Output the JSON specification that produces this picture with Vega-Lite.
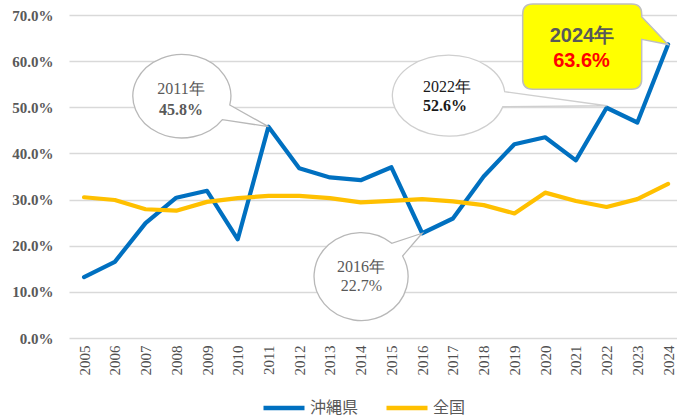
{
  "$schema": "https://vega.github.io/schema/vega-lite/v6.json",
  "width": 608,
  "height": 323,
  "autosize": {"type": "none"},
  "padding": {"left": 69, "top": 15, "right": 0, "bottom": 81},
  "background": "white",
  "config": {"view": {"stroke": null}},
  "datasets": {
    "series": [
      {"year": 2005, "series": "沖縄県", "value": 0.132},
      {"year": 2006, "series": "沖縄県", "value": 0.165},
      {"year": 2007, "series": "沖縄県", "value": 0.249},
      {"year": 2008, "series": "沖縄県", "value": 0.304},
      {"year": 2009, "series": "沖縄県", "value": 0.319},
      {"year": 2010, "series": "沖縄県", "value": 0.214},
      {"year": 2011, "series": "沖縄県", "value": 0.458},
      {"year": 2012, "series": "沖縄県", "value": 0.368},
      {"year": 2013, "series": "沖縄県", "value": 0.348},
      {"year": 2014, "series": "沖縄県", "value": 0.342},
      {"year": 2015, "series": "沖縄県", "value": 0.370},
      {"year": 2016, "series": "沖縄県", "value": 0.227},
      {"year": 2017, "series": "沖縄県", "value": 0.259},
      {"year": 2018, "series": "沖縄県", "value": 0.350},
      {"year": 2019, "series": "沖縄県", "value": 0.420},
      {"year": 2020, "series": "沖縄県", "value": 0.435},
      {"year": 2021, "series": "沖縄県", "value": 0.385},
      {"year": 2022, "series": "沖縄県", "value": 0.499},
      {"year": 2023, "series": "沖縄県", "value": 0.467},
      {"year": 2024, "series": "沖縄県", "value": 0.636},
      {"year": 2005, "series": "全国", "value": 0.305},
      {"year": 2006, "series": "全国", "value": 0.299},
      {"year": 2007, "series": "全国", "value": 0.279},
      {"year": 2008, "series": "全国", "value": 0.276},
      {"year": 2009, "series": "全国", "value": 0.295},
      {"year": 2010, "series": "全国", "value": 0.303},
      {"year": 2011, "series": "全国", "value": 0.308},
      {"year": 2012, "series": "全国", "value": 0.308},
      {"year": 2013, "series": "全国", "value": 0.303},
      {"year": 2014, "series": "全国", "value": 0.294},
      {"year": 2015, "series": "全国", "value": 0.297},
      {"year": 2016, "series": "全国", "value": 0.301},
      {"year": 2017, "series": "全国", "value": 0.296},
      {"year": 2018, "series": "全国", "value": 0.288},
      {"year": 2019, "series": "全国", "value": 0.270},
      {"year": 2020, "series": "全国", "value": 0.315},
      {"year": 2021, "series": "全国", "value": 0.297},
      {"year": 2022, "series": "全国", "value": 0.284},
      {"year": 2023, "series": "全国", "value": 0.301},
      {"year": 2024, "series": "全国", "value": 0.334}
    ],
    "callouts": [
      {"year": 2011, "value": 0.458, "title": "2011年", "pct": "45.8%"},
      {"year": 2016, "value": 0.227, "title": "2016年", "pct": "22.7%"},
      {"year": 2022, "value": 0.499, "title": "2022年", "pct": "52.6%"},
      {"year": 2024, "value": 0.636, "title": "2024年", "pct": "63.6%"}
    ]
  },
  "encoding": {
    "x": {
      "field": "year", "type": "quantitative",
      "scale": {"domain": [2004.51, 2024.29], "nice": false, "zero": false},
      "axis": {
        "title": null, "values": [2005,2006,2007,2008,2009,2010,2011,2012,2013,2014,2015,2016,2017,2018,2019,2020,2021,2022,2023,2024],
        "format": "d", "labelAngle": -90, "labelFont": "Liberation Serif", "labelFontSize": 15,
        "labelColor": "#505050", "labelPadding": 7, "ticks": false, "domain": false, "grid": false,
        "labelFlush": false, "labelOverlap": false
      }
    },
    "y": {
      "field": "value", "type": "quantitative",
      "scale": {"domain": [0, 0.7], "nice": false},
      "axis": {
        "title": null, "values": [0,0.1,0.2,0.3,0.4,0.5,0.6,0.7], "format": ".1%",
        "labelFont": "Liberation Serif", "labelFontWeight": "bold", "labelFontSize": 15,
        "labelColor": "#595959", "labelPadding": 16, "ticks": false, "domain": false,
        "grid": true, "gridColor": "#D9D9D9", "gridWidth": 1.3
      }
    }
  },
  "layer": [
    {
      "data": {"name": "series"},
      "mark": {"type": "line", "strokeWidth": 4.2, "strokeJoin": "round", "strokeCap": "round"},
      "encoding": {
        "color": {
          "field": "series", "type": "nominal",
          "scale": {"domain": ["沖縄県", "全国"], "range": ["#0070C0", "#FFC000"]},
          "legend": {
            "title": null, "orient": "none", "legendX": 192, "legendY": 370, "direction": "horizontal",
            "gridAlign": "none",
            "symbolType": "stroke", "symbolSize": 1681, "symbolStrokeWidth": 4.5, "symbolOpacity": 1,
            "labelFont": "Noto Sans CJK JP", "labelFontSize": 16, "labelColor": "#595959",
            "labelOffset": 3, "columnPadding": 18
          }
        }
      }
    },
    {
      "data": {"name": "callouts"},
      "transform": [{"filter": "datum.year == 2011"}],
      "mark": {"type": "point", "shape": "M0,0 L-38.7,-21.7 A49,41.7 0 1 0 -46.1,-7 Z", "size": 4, "filled": true, "fill": "white", "stroke": "#B8B8B8", "strokeWidth": 1.3, "opacity": 1}
    },
    {
      "data": {"name": "callouts"},
      "transform": [{"filter": "datum.year == 2016"}],
      "mark": {"type": "point", "shape": "M0,0 L-30.4,10 A47,44 0 1 0 -19.6,22.7 Z", "size": 4, "filled": true, "fill": "white", "stroke": "#B8B8B8", "strokeWidth": 1.3, "opacity": 1}
    },
    {
      "data": {"name": "callouts"},
      "transform": [{"filter": "datum.year == 2022"}],
      "mark": {"type": "point", "shape": "M0,-2 L-101.9,-16 A56.3,40.5 0 1 0 -103.8,-1 Z", "size": 4, "filled": true, "fill": "white", "stroke": "#CFCFCF", "strokeWidth": 1.3, "opacity": 1}
    },
    {
      "data": {"name": "callouts"},
      "transform": [{"filter": "datum.year == 2024"}],
      "mark": {"type": "point", "shape": "M0,0 L-26.4,-27.8 L-26.4,-30.5 Q-26.4,-40.5 -36.4,-40.5 L-135.4,-40.5 Q-145.4,-40.5 -145.4,-30.5 L-145.4,34.8 Q-145.4,44.8 -135.4,44.8 L-36.4,44.8 Q-26.4,44.8 -26.4,34.8 L-26.4,-5.2 Z", "size": 4, "filled": true, "fill": "#FFFF00", "stroke": "#BFBFBF", "strokeWidth": 1.5, "opacity": 1}
    },
    {
      "data": {"name": "callouts"},
      "transform": [{"filter": "datum.year == 2011"}],
      "layer": [
        {"mark": {"type": "text", "dx": -87.5, "dy": -32.7, "baseline": "alphabetic", "align": "center", "font": "Liberation Serif", "fontSize": 16, "color": "#595959"}, "encoding": {"text": {"field": "title"}}},
        {"mark": {"type": "text", "dx": -87.5, "dy": -11.7, "baseline": "alphabetic", "align": "center", "font": "Liberation Serif", "fontSize": 16, "fontWeight": "bold", "color": "#595959"}, "encoding": {"text": {"field": "pct"}}}
      ]
    },
    {
      "data": {"name": "callouts"},
      "transform": [{"filter": "datum.year == 2016"}],
      "layer": [
        {"mark": {"type": "text", "dx": -61.2, "dy": 38.4, "baseline": "alphabetic", "align": "center", "font": "Liberation Serif", "fontSize": 16, "color": "#595959"}, "encoding": {"text": {"field": "title"}}},
        {"mark": {"type": "text", "dx": -60.7, "dy": 57.4, "baseline": "alphabetic", "align": "center", "font": "Liberation Serif", "fontSize": 16, "color": "#595959"}, "encoding": {"text": {"field": "pct"}}}
      ]
    },
    {
      "data": {"name": "callouts"},
      "transform": [{"filter": "datum.year == 2022"}],
      "layer": [
        {"mark": {"type": "text", "dx": -159.6, "dy": -16, "baseline": "alphabetic", "align": "center", "font": "Liberation Serif", "fontSize": 16, "color": "#1a1a1a"}, "encoding": {"text": {"field": "title"}}},
        {"mark": {"type": "text", "dx": -161.6, "dy": 3, "baseline": "alphabetic", "align": "center", "font": "Liberation Serif", "fontSize": 16, "fontWeight": "bold", "color": "#1a1a1a"}, "encoding": {"text": {"field": "pct"}}}
      ]
    },
    {
      "data": {"name": "callouts"},
      "transform": [{"filter": "datum.year == 2024"}],
      "layer": [
        {"mark": {"type": "text", "dx": -86.1, "dy": -2.8, "baseline": "alphabetic", "align": "center", "font": "Liberation Sans", "fontSize": 20, "fontWeight": "bold", "color": "#595959"}, "encoding": {"text": {"field": "title"}}},
        {"mark": {"type": "text", "dx": -86.6, "dy": 22.2, "baseline": "alphabetic", "align": "center", "font": "Liberation Sans", "fontSize": 20, "fontWeight": "bold", "color": "#FF0000"}, "encoding": {"text": {"field": "pct"}}}
      ]
    }
  ]
}
